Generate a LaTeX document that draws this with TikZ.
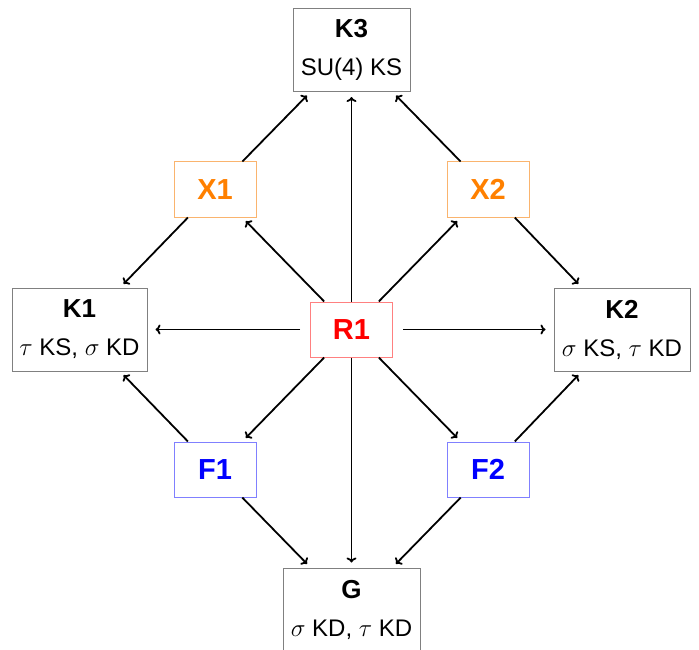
\documentclass[tikz,border=0pt]{standalone}
\usepackage{fontspec}
\setmainfont{Liberation Sans}
\usetikzlibrary{arrows.meta}
\definecolor{xorange}{RGB}{255,128,0}
\definecolor{xorangeline}{RGB}{250,180,110}
\definecolor{fblue}{RGB}{0,0,255}
\definecolor{fblueline}{RGB}{128,128,255}
\definecolor{rred}{RGB}{255,0,0}
\definecolor{rredline}{RGB}{255,128,128}
\tikzset{
  kbox/.style={rectangle, draw=black!50, line width=1pt, minimum height=83pt, align=center,
    font=\fontsize{24}{38}\selectfont},
  sbox/.style={rectangle, line width=1pt, minimum width=82pt, minimum height=55pt,
    font=\fontsize{29}{30}\selectfont\bfseries},
  link/.style={-{To[length=5pt,width=10pt]}, line width=1.8pt, shorten >=5pt},
}
\newcommand{\ktitle}[1]{\textbf{\fontsize{26}{30}\selectfont #1}}
\begin{document}
\begin{tikzpicture}[x=1pt, y=-1pt]
    \useasboundingbox (0,0) rectangle (699,650);
    \node (K3) at (351.5, 50) [kbox, minimum width=117pt] {\ktitle{K3}\\SU(4) KS};
    \node (X1) at (215, 189.5) [sbox, draw=xorangeline, text=xorange] {X1};
    \node (X2) at (488, 189.5) [sbox, draw=xorangeline, text=xorange] {X2};
    \node (K1) at (79.5, 329.5) [kbox, minimum width=135pt] {\ktitle{K1}\\$\tau$ KS, $\sigma$ KD};
    \node (R1) at (351.5, 329.5) [sbox, draw=rredline, text=rred] {R1};
    \node (K2) at (622, 329.5) [kbox, minimum width=136pt] {\ktitle{K2}\\$\sigma$ KS, $\tau$ KD};
    \node (F1) at (215, 469.5) [sbox, draw=fblueline, text=fblue] {F1};
    \node (F2) at (488, 469.5) [sbox, draw=fblueline, text=fblue] {F2};
    \node (G) at (351.5, 609.5) [kbox, minimum width=137pt] {\ktitle{G}\\$\sigma$ KD, $\tau$ KD};

    \draw[link] (X1) -- (K3);
    \draw[link] (X2) -- (K3);
    \draw[link] (X1) -- (K1);
    \draw[link] (X2) -- (K2);
    \draw[link] (F1) -- (K1);
    \draw[link] (F2) -- (K2);
    \draw[link] (F1) -- (G);
    \draw[link] (F2) -- (G);
    \draw[link] (R1) -- (K3);
    \draw[link] (R1) -- (G);
    \draw[link] (R1) -- (X1);
    \draw[link] (R1) -- (X2);
    \draw[link] (R1) -- (F1);
    \draw[link] (R1) -- (F2);
    \draw[link, shorten <=10pt, shorten >=8pt] (R1) -- (K1);
    \draw[link, shorten <=10pt, shorten >=8pt] (R1) -- (K2);
\end{tikzpicture}
\end{document}
